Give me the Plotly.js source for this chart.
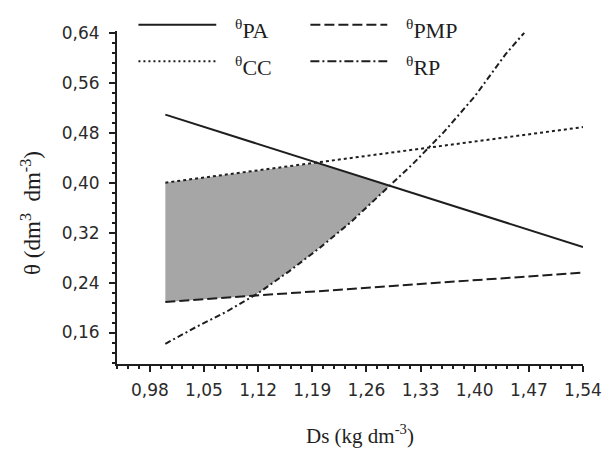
<!DOCTYPE html>
<html>
<head>
<meta charset="utf-8">
<script src="https://cdn.plot.ly/plotly-3.0.1.min.js"></script>
<style>
html,body{margin:0;padding:0;background:#fff;}
#chart{width:606px;height:450px;}
</style>
</head>
<body>
<div id="chart"></div>
<script>
// ---- data ----
const lineX = [1.00, 1.54];
const thetaPA = [0.509, 0.297];
const thetaCC = [0.400, 0.489];
const thetaPMP = [0.209, 0.256];
const rpX = [1.00, 1.04, 1.08, 1.12, 1.16, 1.20, 1.24, 1.28, 1.32, 1.36, 1.40, 1.44, 1.464];
const thetaRP = [0.142, 0.169, 0.194, 0.223, 0.258, 0.296, 0.337, 0.383, 0.430, 0.481, 0.538, 0.606, 0.640];
const seriesNames = ['PA', 'PMP', 'CC', 'RP'];
const xTickVals = [0.98, 1.05, 1.12, 1.19, 1.26, 1.33, 1.40, 1.47, 1.54];
const yTickVals = [0.16, 0.24, 0.32, 0.40, 0.48, 0.56, 0.64];

// ---- styles ----
const ink = '#1e1e1e';
const dashes = {PA: 'solid', PMP: '10px,4px', CC: '3px,3px', RP: '6px,3px,2px,3px'};
const legendDashes = {PA: 'solid', PMP: '10px,4px', CC: '2px,3px', RP: '9px,3px,2px,3px'};

function interp(xa, ya, x) {
  if (x <= xa[0]) return ya[0];
  for (let i = 1; i < xa.length; i++) {
    if (x <= xa[i]) {
      const t = (x - xa[i-1]) / (xa[i] - xa[i-1]);
      return ya[i-1] + t * (ya[i] - ya[i-1]);
    }
  }
  return ya[ya.length-1];
}

// shaded region: between max(PMP,RP) and min(PA,CC), from x=1.00 until RP reaches PA
const fx = [], upper = [], lower = [];
const step = 0.001;
for (let x = lineX[0]; x <= 1.6; x += step) {
  const up = Math.min(interp(lineX, thetaPA, x), interp(lineX, thetaCC, x));
  const lo = Math.max(interp(lineX, thetaPMP, x), interp(rpX, thetaRP, x));
  if (lo >= up) { fx.push(x); upper.push(up); lower.push(up); break; }
  fx.push(x); upper.push(up); lower.push(lo);
}
const polyX = fx.concat(fx.slice().reverse());
const polyY = upper.concat(lower.slice().reverse());

const traces = [
  {x: polyX, y: polyY, mode: 'lines', fill: 'toself', fillcolor: '#a6a6a6',
   line: {width: 0, color: 'rgba(0,0,0,0)'}, hoverinfo: 'skip', showlegend: false},
  {x: lineX, y: thetaPA, mode: 'lines', name: 'θPA', line: {color: ink, width: 2, dash: dashes.PA}, showlegend: false},
  {x: lineX, y: thetaCC, mode: 'lines', name: 'θCC', line: {color: ink, width: 2, dash: dashes.CC}, showlegend: false},
  {x: lineX, y: thetaPMP, mode: 'lines', name: 'θPMP', line: {color: ink, width: 2, dash: dashes.PMP}, showlegend: false},
  {x: rpX, y: thetaRP, mode: 'lines', name: 'θRP', line: {color: ink, width: 2, dash: dashes.RP}, showlegend: false}
];

// custom legend (2 x 2), positions in paper units
const legPos = [
  {name: seriesNames[0], x0: 0.046, x1: 0.213, ty: 1.019, tx: 0.248, txy: 1.006},
  {name: seriesNames[1], x0: 0.415, x1: 0.580, ty: 1.019, tx: 0.616, txy: 1.006},
  {name: seriesNames[2], x0: 0.046, x1: 0.213, ty: 0.909, tx: 0.248, txy: 0.895},
  {name: seriesNames[3], x0: 0.415, x1: 0.580, ty: 0.909, tx: 0.616, txy: 0.895}
];
const shapes = legPos.map(p => ({
  type: 'line', xref: 'paper', yref: 'paper', x0: p.x0, x1: p.x1, y0: p.ty, y1: p.ty,
  line: {color: ink, width: 2, dash: legendDashes[p.name]}
}));
const annotations = legPos.map(p => ({
  xref: 'paper', yref: 'paper', x: p.tx, y: p.txy, xanchor: 'left', yanchor: 'middle',
  text: '<sup>θ</sup>' + p.name, showarrow: false,
  font: {family: 'Liberation Serif, serif', size: 22, color: ink}
}));
annotations.push({
  xref: 'paper', yref: 'paper', x: 0.522, y: -0.212, xanchor: 'center', yanchor: 'middle',
  text: 'Ds (kg dm<sup>-3</sup>)', showarrow: false,
  font: {family: 'Liberation Serif, serif', size: 21, color: ink}
});
annotations.push({
  xref: 'paper', yref: 'paper', x: -0.185, y: 0.453, xanchor: 'center', yanchor: 'middle',
  text: 'θ (dm<sup>3</sup>  dm<sup>-3</sup>)', showarrow: false, textangle: -90,
  font: {family: 'Liberation Serif, serif', size: 23, color: ink}
});

const layout = {
  width: 606, height: 450,
  margin: {l: 116.5, r: 23, t: 30.7, b: 86},
  paper_bgcolor: '#fff', plot_bgcolor: '#fff',
  separators: ',.',
  showlegend: false,
  font: {family: 'DejaVu Sans, sans-serif', size: 17, color: ink},
  xaxis: {
    range: [0.9375, 1.54], tickmode: 'array', tickvals: xTickVals, tickformat: '.2f',
    showgrid: false, zeroline: false, showline: true, linecolor: ink, linewidth: 2,
    ticks: 'outside', ticklen: 6, tickwidth: 2, tickcolor: ink, ticklabelstandoff: 4,
    minor: {tick0: 0.98, dtick: 0.014, ticks: 'outside', ticklen: 3, tickwidth: 2, tickcolor: ink, showgrid: false},
    tickfont: {family: 'DejaVu Sans, sans-serif', size: 17, color: '#2a2a2a'}
  },
  yaxis: {
    range: [0.1096, 0.6429], tickmode: 'array', tickvals: yTickVals, tickformat: '.2f',
    showgrid: false, zeroline: false, showline: true, linecolor: ink, linewidth: 2,
    ticks: 'outside', ticklen: 6, tickwidth: 2, tickcolor: ink, ticklabelstandoff: 6,
    minor: {tick0: 0.16, dtick: 0.016, ticks: 'outside', ticklen: 3, tickwidth: 2, tickcolor: ink, showgrid: false},
    tickfont: {family: 'DejaVu Sans, sans-serif', size: 17, color: '#2a2a2a'}
  },
  shapes: shapes,
  annotations: annotations
};

Plotly.newPlot('chart', traces, layout, {displayModeBar: false, staticPlot: true});
</script>
</body>
</html>
